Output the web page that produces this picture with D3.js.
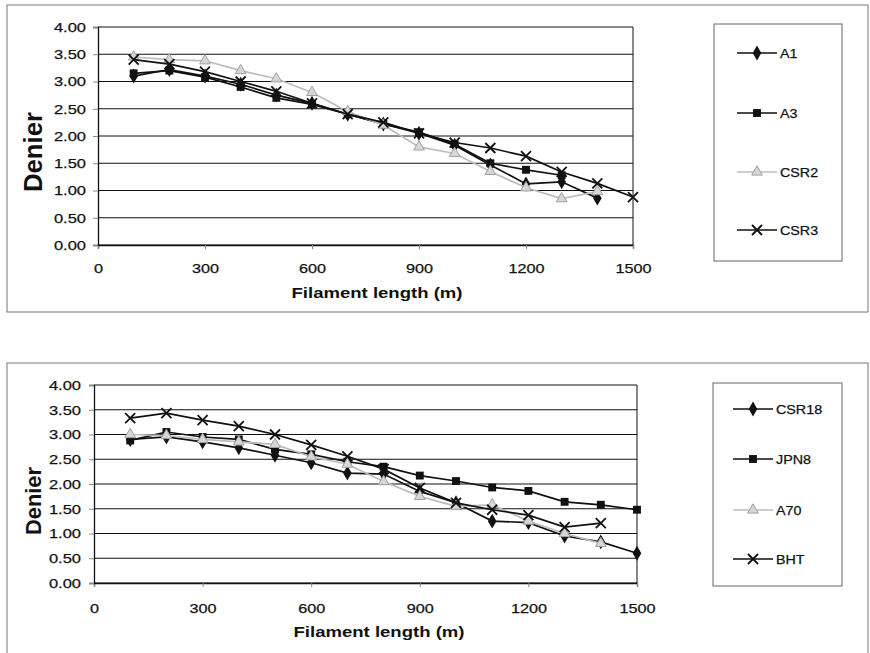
<!DOCTYPE html>
<html lang="en">
  <head>
    <title>Denier vs filament length</title>
    <meta charset="UTF-8">
    <script src="https://d3js.org/d3.v7.min.js"></script>
    <style>
      * {
        margin: 0;
        padding: 0;
      }
      body {
        background-color: white;
      }
      svg {
        display: block;
        font-family: 'Liberation Sans', Arial, sans-serif;
      }
    </style>
  </head>
  <body>
    <script>
      // filament length (m) where denier was measured
      const lengths = [100, 200, 300, 400, 500, 600, 700, 800, 900, 1000, 1100, 1200, 1300, 1400, 1500]
      const xTicks = [0, 300, 600, 900, 1200, 1500]
      const yTicks = [0, 0.5, 1, 1.5, 2, 2.5, 3, 3.5, 4]

      // top chart
      const a1 = [3.10, 3.22, 3.10, 2.95, 2.75, 2.60, 2.40, 2.22, 2.05, 1.83, 1.47, 1.12, 1.16, 0.86, null]
      const a3 = [3.15, 3.20, 3.08, 2.90, 2.70, 2.58, 2.40, 2.22, 2.07, 1.85, 1.50, 1.38, 1.28, null, null]
      const csr2 = [3.45, 3.40, 3.38, 3.20, 3.05, 2.80, 2.45, 2.20, 1.80, 1.68, 1.35, 1.05, 0.85, 0.98, null]
      const csr3 = [3.40, 3.32, 3.18, 3.00, 2.82, 2.60, 2.40, 2.25, 2.05, 1.88, 1.78, 1.63, 1.34, 1.13, 0.88]

      // bottom chart
      const csr18 = [2.90, 2.95, 2.85, 2.73, 2.58, 2.43, 2.22, 2.20, 1.85, 1.62, 1.25, 1.22, 0.95, 0.83, 0.60]
      const jpn8 = [2.88, 3.05, 2.95, 2.90, 2.70, 2.60, 2.45, 2.35, 2.17, 2.06, 1.93, 1.86, 1.64, 1.58, 1.48]
      const a70 = [3.00, 2.98, 2.90, 2.85, 2.80, 2.55, 2.40, 2.05, 1.75, 1.55, 1.58, 1.25, 1.00, 0.80, null]
      const bht = [3.33, 3.43, 3.29, 3.17, 3.00, 2.79, 2.56, 2.30, 1.92, 1.62, 1.48, 1.37, 1.13, 1.21, null]

      const topNames = ['A1', 'A3', 'CSR2', 'CSR3']
      const bottomNames = ['CSR18', 'JPN8', 'A70', 'BHT']

      const width = 870
      const height = 653

      const svg = d3.select('body')
                    .append('svg')
                    .attr('width', width)
                    .attr('height', height)

      const black = '#111'
      const grey = '#bdbdbd'

      function stretch(sel, k) {
        sel.each(function () {
          const w = this.getComputedTextLength()
          d3.select(this)
            .attr('textLength', w * k)
            .attr('lengthAdjust', 'spacingAndGlyphs')
        })
      }

      function drawMarker(g, kind, cx, cy) {
        if (kind === 'x') {
          const s = 5
          g.append('path')
           .attr('d', `M${cx - s},${cy - s}L${cx + s},${cy + s}M${cx - s},${cy + s}L${cx + s},${cy - s}`)
           .attr('stroke', black)
           .attr('stroke-width', 1.8)
           .attr('fill', 'none')
          return
        }
        const types = { diamond: d3.symbolDiamond, square: d3.symbolSquare, triangle: d3.symbolTriangle }
        const sizes = { diamond: 64, square: 62, triangle: 50 }
        g.append('path')
         .attr('d', d3.symbol().type(types[kind]).size(sizes[kind])())
         .attr('transform', `translate(${cx},${cy})`)
         .attr('fill', kind === 'triangle' ? '#d6d6d6' : black)
         .attr('stroke', kind === 'triangle' ? '#a0a0a0' : 'none')
         .attr('stroke-width', 1)
      }

      function drawChart(cfg) {
        const g = svg.append('g')

        // outer frame
        g.append('rect')
         .attr('x', cfg.frame[0]).attr('y', cfg.frame[1])
         .attr('width', cfg.frame[2]).attr('height', cfg.frame[3])
         .attr('fill', 'white')
         .attr('stroke', '#777')
         .attr('stroke-width', 1)

        const xScale = d3.scaleLinear()
                         .domain([0, 1500])
                         .range([cfg.plot.l, cfg.plot.r])
        const yScale = d3.scaleLinear()
                         .domain([0, 4])
                         .range([cfg.plot.b, cfg.plot.t])

        // gridlines
        g.selectAll('.grid')
         .data(yTicks)
         .enter()
         .append('line')
         .attr('x1', cfg.plot.l).attr('x2', cfg.plot.r)
         .attr('y1', d => yScale(d)).attr('y2', d => yScale(d))
         .attr('stroke', black)
         .attr('stroke-width', 1)

        g.append('line')
         .attr('x1', cfg.plot.r).attr('x2', cfg.plot.r)
         .attr('y1', cfg.plot.t).attr('y2', cfg.plot.b)
         .attr('stroke', black)

        const xAxis = d3.axisBottom(xScale).tickValues(xTicks).tickSize(4).tickFormat(d => d)
        const yAxis = d3.axisLeft(yScale).tickValues(yTicks).tickSize(5).tickFormat(d3.format('.2f'))

        const gx = g.append('g')
                    .attr('transform', `translate(0,${cfg.plot.b})`)
                    .call(xAxis)
        const gy = g.append('g')
                    .attr('transform', `translate(${cfg.plot.l},0)`)
                    .call(yAxis)

        for (const ax of [gx, gy]) {
          ax.select('.domain').attr('stroke', black).attr('stroke-width', 1.3)
          ax.selectAll('.tick line').attr('stroke', '#888')
          ax.selectAll('text')
            .attr('fill', black)
            .attr('stroke', black)
            .attr('stroke-width', 0.25)
            .style('font-size', '13.5px')
            .style('font-family', "'Liberation Sans', Arial, sans-serif")
        }
        gx.selectAll('text').attr('y', cfg.xLabelY)
        gy.selectAll('text').attr('x', -cfg.yLabelGap)
        stretch(gx.selectAll('text'), 1.2)
        stretch(gy.selectAll('text'), 1.22)

        // axis titles
        g.append('text')
         .text('Filament length (m)')
         .attr('x', cfg.xTitle[0])
         .attr('y', cfg.xTitle[1])
         .attr('text-anchor', 'middle')
         .attr('font-weight', 'bold')
         .attr('font-size', 14)
         .attr('textLength', 171)
         .attr('lengthAdjust', 'spacingAndGlyphs')
         .attr('fill', black)

        g.append('text')
         .text('Denier')
         .attr('transform', `translate(${cfg.yTitle[0]},${cfg.yTitle[1]}) rotate(-90)`)
         .attr('text-anchor', 'middle')
         .attr('font-weight', 'bold')
         .attr('font-size', cfg.yTitle[2])
         .attr('textLength', cfg.yTitle[3])
         .attr('lengthAdjust', 'spacingAndGlyphs')
         .attr('fill', black)

        // series
        const line = d3.line()
                       .defined(d => d[1] !== null)
                       .x(d => xScale(d[0]))
                       .y(d => yScale(d[1]))

        cfg.series.forEach(s => {
          const pts = lengths.map((l, i) => [l, s.values[i]])
          g.append('path')
           .datum(pts)
           .attr('d', line)
           .attr('fill', 'none')
           .attr('stroke', s.color)
           .attr('stroke-width', 1.7)
          const mg = g.append('g')
          pts.filter(d => d[1] !== null).forEach(d => {
            drawMarker(mg, s.marker, xScale(d[0]), yScale(d[1]))
          })
        })

        // legend
        const lg = g.append('g')
        lg.append('rect')
          .attr('x', cfg.legend.x).attr('y', cfg.legend.y)
          .attr('width', cfg.legend.w).attr('height', cfg.legend.h)
          .attr('fill', 'white')
          .attr('stroke', '#666')
        cfg.series.forEach((s, i) => {
          const ly = cfg.legend.rows[i]
          lg.append('line')
            .attr('x1', cfg.legend.lx).attr('x2', cfg.legend.lx + 40)
            .attr('y1', ly).attr('y2', ly)
            .attr('stroke', s.color)
            .attr('stroke-width', 1.7)
          drawMarker(lg, s.marker, cfg.legend.lx + 20, ly)
          lg.append('text')
            .text(s.name)
            .attr('x', cfg.legend.lx + 43)
            .attr('y', ly + 5)
            .attr('font-size', 13)
            .attr('fill', black)
            .attr('stroke', black)
            .attr('stroke-width', 0.25)
        })
        stretch(lg.selectAll('text'), 1.1)
      }

      drawChart({
        frame: [7, 5, 861, 307],
        plot: { l: 98, r: 633, t: 27, b: 245 },
        xLabelY: 18,
        yLabelGap: 12,
        xTitle: [377, 298],
        yTitle: [42, 152, 25, 80],
        legend: { x: 714, y: 24, w: 128, h: 237, lx: 737, rows: [53, 113, 172, 230] },
        series: [
          { name: topNames[0], values: a1, color: black, marker: 'diamond' },
          { name: topNames[1], values: a3, color: black, marker: 'square' },
          { name: topNames[2], values: csr2, color: grey, marker: 'triangle' },
          { name: topNames[3], values: csr3, color: black, marker: 'x' }
        ]
      })

      drawChart({
        frame: [7, 363, 861, 300],
        plot: { l: 94, r: 637, t: 385, b: 583 },
        xLabelY: 20,
        yLabelGap: 13,
        xTitle: [379, 637],
        yTitle: [41, 501, 22, 68],
        legend: { x: 713, y: 383, w: 129, h: 203, lx: 733, rows: [409, 459, 510, 559] },
        series: [
          { name: bottomNames[0], values: csr18, color: black, marker: 'diamond' },
          { name: bottomNames[1], values: jpn8, color: black, marker: 'square' },
          { name: bottomNames[2], values: a70, color: grey, marker: 'triangle' },
          { name: bottomNames[3], values: bht, color: black, marker: 'x' }
        ]
      })
    </script>
  </body>
</html>
